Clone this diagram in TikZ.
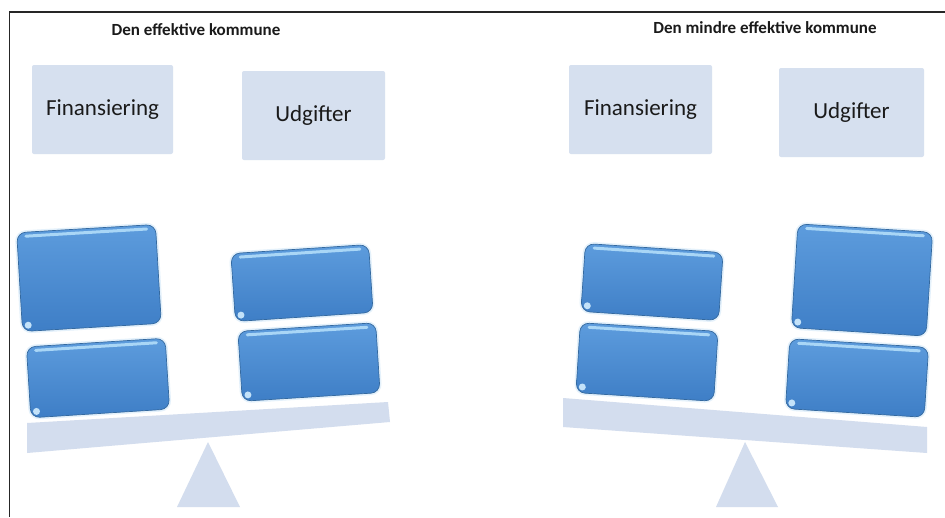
\documentclass[tikz,border=0pt]{standalone}
\usepackage{fontspec}
\setmainfont{Carlito}
\definecolor{lightbox}{HTML}{D6E0EF}
\definecolor{beamcol}{HTML}{D3DDEE}
\definecolor{blktop}{HTML}{5D9CDD}
\definecolor{blkbot}{HTML}{3E7EC6}
\definecolor{blkedge}{HTML}{34699F}
\definecolor{blkhl}{HTML}{A9D6F6}
\definecolor{glow}{HTML}{E4F1FB}
\definecolor{txt}{HTML}{1A1A1A}
\tikzset{
  lbox/.style={fill=lightbox, rounded corners=2pt, inner sep=0pt, text=txt,
    font=\fontsize{23}{26}\selectfont},
  ttl/.style={inner sep=0pt, text=txt, font=\fontsize{17}{19}\bfseries\selectfont},
  beam/.style={fill=beamcol},
}
% \blk{cx}{cy}{w}{h}{angle}
\newcommand\blk[5]{%
  \begin{scope}[shift={(#1,#2)}, rotate=#5]
    \draw[glow, line width=4pt, rounded corners=9pt] (-#3/2,-#4/2) rectangle (#3/2,#4/2);
    \shade[top color=blktop, bottom color=blkbot, draw=blkedge, line width=0.7pt,
      rounded corners=9pt] (-#3/2,-#4/2) rectangle (#3/2,#4/2);
    \draw[blkhl, line width=3pt, line cap=round] (-#3/2+9,-#4/2+4) -- (#3/2-9,-#4/2+4);
    \fill[blkhl!70!white] (-#3/2+6,#4/2-6) circle (3.5pt);
  \end{scope}}
\begin{document}
\begin{tikzpicture}[x=1pt,y=-1pt]
\useasboundingbox (0,0) rectangle (945,517);
\fill[white] (0,0) rectangle (945,517);
% frame
\coordinate (fa) at (945,12);
\coordinate (fb) at (9.5,12);
\coordinate (fc) at (9.5,517);
\draw[black!85, line width=1.4pt] (fa) -- (fb) -- (fc);

% titles
\node[ttl] (t1) at (196,30) {Den effektive kommune};
\node[ttl] (t2) at (765,28) {Den mindre effektive kommune};

% label boxes
\node[lbox, minimum width=141pt, minimum height=89pt] (fin1) at (102.5,109.5) {Finansiering};
\node[lbox, minimum width=143pt, minimum height=89pt] (udg1) at (313.5,115.5) {Udgifter};
\node[lbox, minimum width=143pt, minimum height=89pt] (fin2) at (640.5,109.5) {Finansiering};
\node[lbox, minimum width=145pt, minimum height=89pt] (udg2) at (851.5,112.5) {Udgifter};

% left balance
\fill[beam] (27,423) -- (388,402) -- (390,422) -- (27,453) -- cycle;
\fill[beam] (208,442) -- (240,507) -- (177,507) -- cycle;
\blk{89}{278}{139}{99}{3.4}
\blk{98}{378}{139}{71}{3.6}
\blk{302}{283}{138}{68}{3.8}
\blk{309}{362}{138}{70}{3.6}

% right balance
\fill[beam] (563,398) -- (927,427) -- (927,453) -- (563,427) -- cycle;
\fill[beam] (745,442) -- (778,507) -- (716,507) -- cycle;
\blk{652}{282}{138}{68}{-3.8}
\blk{647}{362}{138}{70}{-3.6}
\blk{862}{280}{135}{104}{-3.6}
\blk{857}{378}{139}{70}{-3.6}
\end{tikzpicture}
\end{document}
